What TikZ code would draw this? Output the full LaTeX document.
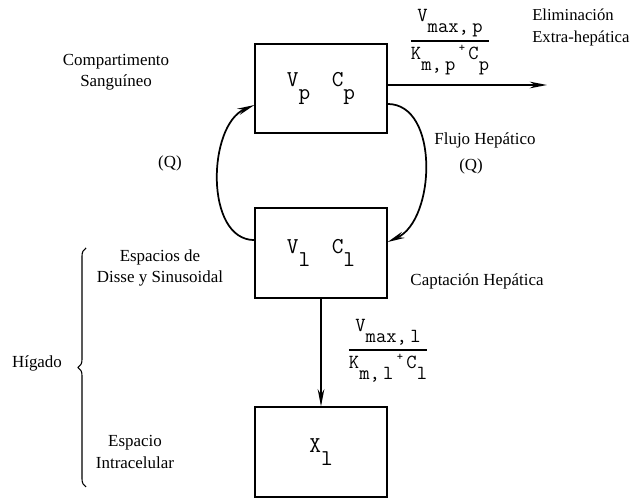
\documentclass[tikz,border=0pt]{standalone}
\usepackage{amsmath}
\usepackage{fontspec}
\setmainfont{Liberation Serif}
\usetikzlibrary{positioning,arrows.meta,decorations.pathreplacing}
\newcommand{\lo}[1]{\raisebox{-0.55em}{#1}}
\newcommand{\rate}[2]{$\genfrac{}{}{0.9pt}{0}{\mbox{#1}}{\mbox{#2}}$}

\begin{document}
\begin{tikzpicture}[
  x=0.75pt, y=-0.75pt,
  comp/.style={draw, line width=1.4pt, minimum width=98.5pt, minimum height=67pt, inner sep=0pt,
    font=\fontsize{17}{19}\ttfamily},
  lbl/.style={font=\fontsize{12.7}{16}\selectfont, align=center},
  flow/.style={line width=1.3pt, -{Stealth[length=13pt, width=5pt]}},
  ratelbl/.style={font=\fontsize{15}{17}\ttfamily}
]
  \useasboundingbox (0,0) rectangle (632,498);

  % compartments
  \node[comp] (P) at (321,88.5) {V\lo{p}\hspace{0.95em}C\lo{p}};
  \node[comp] (L) at (321,253) {V\lo{l}\hspace{0.95em}C\lo{l}};
  \node[comp] (X) at (321,452) {X\lo{l}};

  % flows
  \coordinate (elim) at (547,85);
  \draw[flow] ([yshift=2.6pt]P.east) -- (elim);
  \draw[flow] ([yshift=-11.6pt]P.east) .. controls +(52,0) and +(48,-22) .. ([yshift=8.2pt]L.east);
  \draw[flow] ([yshift=9.7pt]L.west) .. controls +(-50,0) and +(-47,20) .. ([yshift=-12.4pt]P.west);
  \draw[flow] (L) -- (X);

  % rates
  \node[ratelbl] (kp) at (450,42) {\rate{V\lo{max,\,p}}{K\lo{m,\,p}\,\raisebox{0.4em}{\small+}\,C\lo{p}}};
  \node[ratelbl] (kl) at (388,351) {\rate{V\lo{max,\,l}}{K\lo{m,\,l}\,\raisebox{0.4em}{\small+}\,C\lo{l}}};

  % labels
  \node[lbl] (sang) at (116,72) {Compartimento\\Sanguíneo};
  \node[lbl, align=left, anchor=west, inner sep=0pt, font=\fontsize{12.5}{16.5}\selectfont] (elimtxt) at (532,27) {Eliminación\\Extra-hepática};
  \node[lbl] (flujo) at (485,140) {Flujo Hepático};
  \node[lbl] (qr) at (471,166) {(Q)};
  \node[lbl] (ql) at (170,163) {(Q)};
  \node[lbl] (disse) at (160,268) {Espacios de\\Disse y Sinusoidal};
  \node[lbl] (capt) at (477,281) {Captación Hepática};
  \node[lbl] (hig) at (37,363) {Hígado};
  \node[lbl] (intra) at (135,452) {Espacio\\Intracelular};

  % liver brace
  \coordinate (bb) at (86,487);
  \coordinate (bt) at (86,248);
  \draw[line width=0.8pt, decorate, decoration={brace, amplitude=6pt}] (bb) -- (bt);
\end{tikzpicture}
\end{document}
